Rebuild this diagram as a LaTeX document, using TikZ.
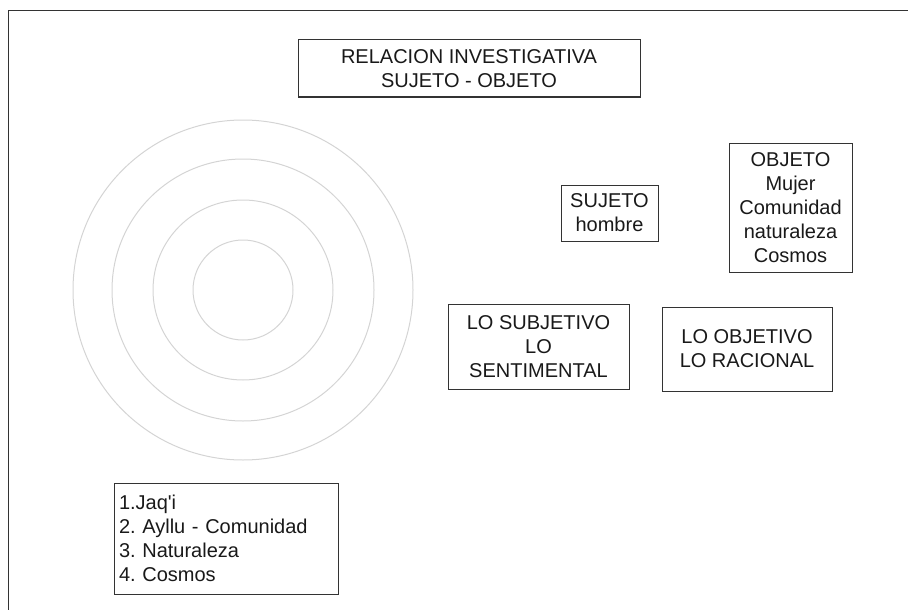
\documentclass[tikz,border=0pt]{standalone}
\usepackage{fontspec}
\setmainfont{Liberation Sans}
\frenchspacing
\definecolor{linea}{HTML}{333333}
\definecolor{anillo}{HTML}{D4D4D4}
\begin{document}
\begin{tikzpicture}[x=1pt, y=-1pt, line width=1pt,
	  caja/.style={draw=linea, align=center, inner sep=0pt, text=black!90,
	    font=\fontsize{20}{24}\selectfont},
	  anillo/.style={draw=anillo, line width=1pt}]
	  \useasboundingbox (0,0) rectangle (908,610);
	  % marco
	  \draw[linea] (8,610) -- (8,11) -- (908,11);
	  % anillos
	  \coordinate (centro) at (243,290);
	  \foreach \r in {50,90,131,170}{%
		\draw[anillo] (centro) circle (\r pt);
	  }
	  \node[caja, minimum width=342, minimum height=57] (titulo) at (469,68.5) {RELACION INVESTIGATIVA\\SUJETO - OBJETO};
	  \node[caja, minimum width=97, minimum height=56] (sujeto) at (609.5,213) {SUJETO\\hombre};
	  \node[caja, minimum width=123, minimum height=129] (objeto) at (790.5,207.5) {OBJETO\\Mujer\\Comunidad\\naturaleza\\Cosmos};
	  \node[caja, minimum width=181, minimum height=85] (subjetivo) at (538.5,346.5) {LO SUBJETIVO\\LO\\SENTIMENTAL};
	  \node[caja, minimum width=170, minimum height=84] (objetivo) at (747,349) {LO OBJETIVO\\LO RACIONAL};
	  \node[caja, align=left, text width=214, inner xsep=5, minimum height=111] (lista) at (226,538.5) {1.Jaq\textquotesingle i\\2. Ayllu - Comunidad\\3. Naturaleza\\4. Cosmos};
	\end{tikzpicture}
\end{document}
